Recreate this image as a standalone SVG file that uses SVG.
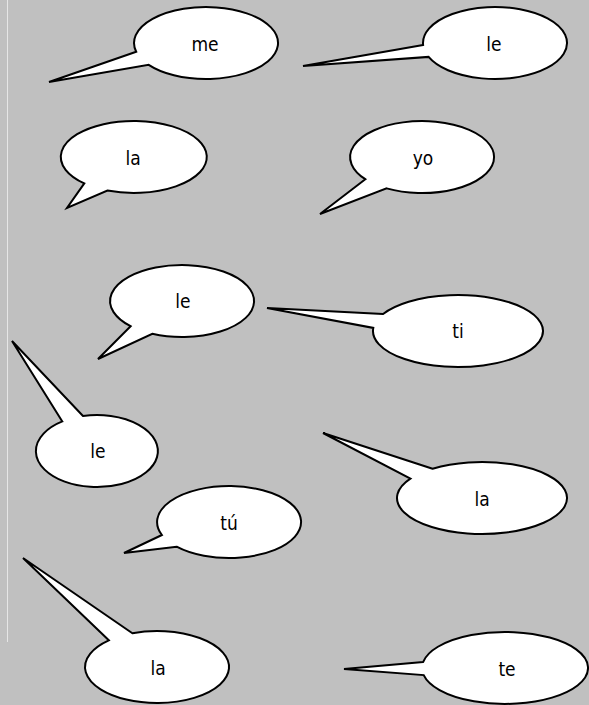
<svg xmlns="http://www.w3.org/2000/svg" width="589" height="705" viewBox="0 0 589 705">
  <style>
    .b { fill: #ffffff; stroke: #000000; stroke-width: 2; stroke-linejoin: miter; stroke-miterlimit: 4; }
    .t { font-family: 'DejaVu Sans Condensed', 'DejaVu Sans', sans-serif; font-stretch: condensed; font-size: 19px; fill: #000000; text-anchor: middle; }
  </style>
  <rect x="0" y="0" width="589" height="705" fill="#c0c0c0"/>
  <line x1="7.5" y1="0" x2="7.5" y2="642" stroke="#e6e6e6" stroke-width="1"/>
  <g id="connectors"></g>
  <g id="b1">
    <path class="b" d="M136.2,51.8 L49,82 L148.7,64.8 A72,36 0 1 0 136.2,51.8 Z"/>
    <text class="t" x="205" y="51">me</text>
  </g>
  <g id="b2">
    <path class="b" d="M423.1,44.9 L303,66 L428.6,56.9 A72,36 0 1 0 423.1,44.9 Z"/>
    <text class="t" x="494" y="51">le</text>
  </g>
  <g id="b3">
    <path class="b" d="M84.3,183.4 L67,208 L107.4,190.5 A73,36 0 1 0 84.3,183.4 Z"/>
    <text class="t" x="133" y="165">la</text>
  </g>
  <g id="b4">
    <path class="b" d="M365.3,179.2 L320,214 L386.6,188.4 A72,36 0 1 0 365.3,179.2 Z"/>
    <text class="t" x="423" y="165">yo</text>
  </g>
  <g id="b5">
    <path class="b" d="M130.6,326.2 L98,359 L152.3,333.8 A72,36 0 1 0 130.6,326.2 Z"/>
    <text class="t" x="183" y="308">le</text>
  </g>
  <g id="b6">
    <path class="b" d="M383.1,314 L267,308 L373.3,327.9 A85,36 0 1 0 383.1,314 Z"/>
    <text class="t" x="458" y="338">ti</text>
  </g>
  <g id="b7">
    <path class="b" d="M83,416 L12,341 L62.3,421.4 A61,36 0 1 0 83,416 Z"/>
    <text class="t" x="98" y="458">le</text>
  </g>
  <g id="b8">
    <path class="b" d="M432.6,468.7 L323,433 L410.4,478.6 A85,36 0 1 0 432.6,468.7 Z"/>
    <text class="t" x="482" y="506">la</text>
  </g>
  <g id="b9">
    <path class="b" d="M161.9,535 L124,553 L176.6,546.7 A72,36 0 1 0 161.9,535 Z"/>
    <text class="t" x="229" y="530">tú</text>
  </g>
  <g id="b10">
    <path class="b" d="M132.4,633.2 L23,558 L108.8,640.3 A72,36 0 1 0 132.4,633.2 Z"/>
    <text class="t" x="158" y="675">la</text>
  </g>
  <g id="b11">
    <path class="b" d="M423.2,661.9 L344,669 L423.7,675.1 A83,36 0 1 0 423.2,661.9 Z"/>
    <text class="t" x="507" y="676">te</text>
  </g>
</svg>
